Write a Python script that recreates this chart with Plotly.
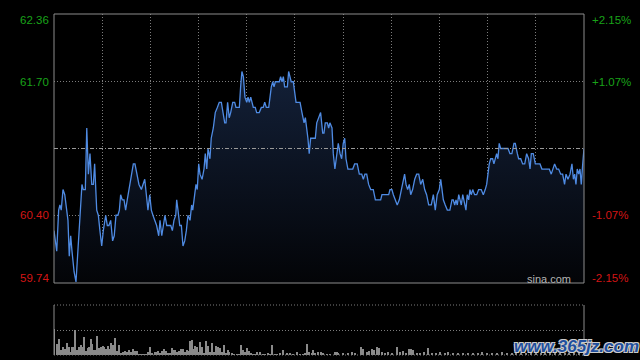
import plotly.graph_objects as go

# ---- price series (minutes from 09:30, HK session 330 min) ----
minutes_a = [0, 1.7, 2.9, 3.7, 4.5, 5.6, 6.7, 7.9, 8.7, 9.5, 10.4, 11.2, 12.5, 13.7, 15.0, 16.2, 17.4, 18.2, 19.5, 20.4,
             21.4, 22.4, 23.5, 24.5, 25.3, 26.6, 27.6, 28.6, 29.7, 30.7, 32.2, 33.2, 34.2, 35.3, 36.5, 37.5, 38.6, 39.8, 40.7, 41.5,
             42.5, 43.6, 44.6, 45.6, 47.3, 48.7, 49.4, 50.4, 51.5, 52.9, 54.4, 55.4, 56.5, 57.5, 58.5, 59.6, 60.6, 61.6, 62.7, 63.9,
             65.2, 66.0, 67.1, 68.0, 69.1, 70.2, 71.6, 72.7, 73.7, 74.7, 75.8, 76.4, 77.2, 78.3, 79.3, 80.3, 81.4, 82.4, 83.4]
prices_a = [60.25, 60.05, 60.45, 60.50, 60.45, 60.65, 60.60, 60.45, 60.35, 60.00,
            60.20, 60.05, 59.85, 59.75, 60.10, 60.50, 60.70, 60.65, 60.65, 61.25,
            60.80, 61.00, 60.70, 60.70, 60.90, 60.45, 60.40, 60.25, 60.10, 60.25,
            60.40, 60.30, 60.30, 60.35, 60.15, 60.20, 60.40, 60.40, 60.45, 60.60,
            60.55, 60.55, 60.45, 60.55, 60.70, 60.80, 60.90, 60.90, 60.80, 60.70,
            60.65, 60.70, 60.75, 60.60, 60.45, 60.60, 60.45, 60.40, 60.35, 60.30,
            60.20, 60.35, 60.20, 60.30, 60.40, 60.30, 60.30, 60.30, 60.25, 60.35,
            60.40, 60.55, 60.45, 60.30, 60.30, 60.10, 60.15, 60.25, 60.40]

minutes_b = [84.7, 85.7, 86.4, 87.6, 88.4, 89.2, 90.1, 90.9, 92.2, 93.4, 94.2, 95.1, 95.9, 97.1, 97.9, 99.2, 100.4, 101.7, 102.9, 104.2,
             105.4, 106.3, 107.1, 108.1, 109.1, 110.0, 111.3, 112.5, 113.3, 115.4, 116.2, 117.0, 117.9, 118.9, 120.0, 120.8, 121.6, 122.5, 123.3, 124.1,
             125.3, 126.2, 127.8, 129.1, 130.3, 131.2, 132.2, 133.7, 134.5, 135.3, 136.2, 137.0, 137.8, 139.0, 140.3, 141.1, 142.0, 142.8, 143.6, 144.4,
             145.3, 146.1, 146.9, 147.7, 149.0, 149.9, 150.7, 151.9, 153.2, 154.4, 155.7, 156.5, 157.4, 158.1, 158.9, 159.8, 161.1, 162.7, 163.6, 164.8,
             166.0, 167.3, 168.1, 168.9, 170.2, 171.0, 171.8, 173.1, 173.9, 174.9, 176.0, 177.0, 178.1, 179.1, 180.1, 181.0, 181.8, 183.0, 184.3, 185.1,
             186.0, 187.2, 188.8, 190.1]
prices_b = [60.35, 60.50, 60.45, 60.60, 60.70, 60.65, 60.90, 60.80, 60.75, 60.85,
            61.00, 60.85, 61.05, 60.95, 61.15, 61.25, 61.40, 61.45, 61.50, 61.50,
            61.40, 61.30, 61.30, 61.50, 61.35, 61.40, 61.50, 61.50, 61.45, 61.45,
            61.65, 61.80, 61.75, 61.55, 61.50, 61.55, 61.50, 61.55, 61.50, 61.45,
            61.45, 61.40, 61.40, 61.45, 61.45, 61.50, 61.45, 61.45, 61.55, 61.65,
            61.70, 61.65, 61.70, 61.70, 61.70, 61.75, 61.70, 61.75, 61.65, 61.65,
            61.65, 61.80, 61.75, 61.70, 61.70, 61.60, 61.50, 61.50, 61.50, 61.40,
            61.30, 61.35, 61.25, 61.15, 61.00, 61.15, 61.15, 61.15, 61.30, 61.35,
            61.40, 61.20, 61.20, 61.30, 61.30, 61.25, 61.30, 61.25, 61.00, 60.85,
            61.00, 61.10, 61.00, 60.95, 61.10, 61.15, 60.95, 60.85, 60.85, 60.85,
            60.85, 60.90, 60.90, 60.80]

minutes_c = [191.6, 192.6, 193.6, 194.7, 195.9, 197.2, 198.8, 200.1, 202.2, 203.4,
             204.2, 206.3, 208.4, 209.2, 210.4, 211.3, 212.5, 213.7, 215.0, 216.2,
             217.5, 218.3, 219.2, 220.2, 221.2, 222.1, 223.3, 224.6, 225.8, 227.1,
             228.3, 229.6, 230.8, 232.0, 233.3, 234.9, 236.2, 237.4, 238.6, 239.9,
             240.8, 241.6, 242.4, 243.6, 244.9, 246.5, 247.8, 248.6, 249.5, 250.3,
             251.1, 252.0, 252.8, 253.6, 254.5, 255.7, 256.5, 257.3, 258.2, 259.0,
             259.8, 260.7, 261.9, 263.2, 264.4, 266.0, 267.3, 268.5, 269.4, 270.2,
             271.0, 271.9, 273.1, 273.9, 274.8, 275.6, 276.4, 277.2, 278.1, 279.7,
             281.4, 282.7, 283.9, 285.1, 286.4, 287.2, 288.5, 289.3, 290.6, 291.8,
             293.1, 294.3, 295.5, 296.4, 297.2, 298.4, 299.7, 301.3, 302.6, 303.8,
             304.6, 305.9, 307.1, 308.4, 309.6, 310.9, 311.7, 313.0, 314.2, 315.5,
             316.7, 317.9, 318.8, 320.0, 321.3, 322.5, 323.4, 324.2, 325.0, 325.8,
             326.7, 327.5, 328.3, 329.2, 330.0]
prices_c = [60.80, 60.75, 60.80, 60.80, 60.70, 60.65, 60.65, 60.55, 60.55, 60.55,
            60.60, 60.60, 60.60, 60.65, 60.65, 60.60, 60.55, 60.50, 60.55, 60.65,
            60.75, 60.80, 60.70, 60.65, 60.70, 60.60, 60.65, 60.75, 60.80, 60.80,
            60.70, 60.75, 60.65, 60.60, 60.50, 60.50, 60.60, 60.45, 60.60, 60.65,
            60.75, 60.65, 60.55, 60.50, 60.45, 60.45, 60.55, 60.55, 60.50, 60.55,
            60.50, 60.60, 60.55, 60.50, 60.60, 60.50, 60.45, 60.60, 60.55, 60.65,
            60.60, 60.65, 60.60, 60.60, 60.65, 60.65, 60.60, 60.65, 60.70, 60.80,
            60.90, 60.95, 60.95, 60.90, 60.95, 61.00, 60.95, 61.10, 61.05, 61.05,
            61.05, 61.05, 61.00, 61.00, 61.10, 61.10, 61.00, 60.95, 60.95, 60.90,
            60.90, 61.00, 60.95, 60.85, 61.00, 61.00, 60.90, 60.90, 60.90, 60.85,
            60.85, 60.85, 60.85, 60.85, 60.80, 60.85, 60.90, 60.85, 60.85, 60.80,
            60.80, 60.70, 60.80, 60.75, 60.80, 60.90, 60.75, 60.80, 60.70, 60.85,
            60.80, 60.85, 60.70, 60.90, 61.05]

# ---- volume (arbitrary units; panel top = 200) ----
vol_minutes = [0, 2.1, 3.3, 4.2, 5.0, 5.8, 7.0, 8.3, 9.1, 10.4, 11.2, 12.0, 13.3, 14.1, 15.4, 16.6, 17.9, 18.9, 19.9, 21.4,
               22.0, 23.2, 23.8, 24.9, 26.0, 27.0, 28.2, 29.1, 30.3, 31.1, 32.4, 33.4, 34.4, 35.5, 36.5, 37.4, 38.2, 39.0, 40.3, 41.5,
               42.8, 44.0, 44.8, 45.6, 46.9, 47.8, 49.0, 50.2, 51.5, 52.7, 54.0, 55.2, 56.5, 57.7, 58.7, 59.8, 61.0, 62.9, 63.9, 64.9,
               66.0, 67.2, 68.5, 69.7, 71.0, 72.2, 73.3, 74.3, 75.3, 76.8, 78.0, 79.3, 80.1, 81.4, 82.6, 83.9, 84.7, 85.9, 86.7, 87.8,
               88.8, 89.8, 90.9, 92.0, 93.4, 94.6, 95.9, 97.1, 98.4, 99.6, 100.9, 102.1, 103.4, 104.4, 105.8, 107.1, 108.1, 109.1, 110.6, 112.1,
               113.7, 115.4, 116.6, 117.9, 119.1, 120.0, 121.2, 122.5, 124.1, 125.3, 126.6, 128.3, 129.9, 131.6, 133.2, 134.5, 135.9, 137.6, 139.0, 140.7,
               142.8, 144.9, 146.9, 149.0, 151.1, 153.2, 155.2, 156.5, 157.7, 159.0, 160.4, 161.4, 162.7, 164.6, 166.0, 167.7, 169.8, 171.8, 174.8, 176.4,
               177.0, 180.1, 183.2, 185.3, 187.4, 191.0, 192.6, 194.7, 196.3, 197.8, 199.4, 200.9, 202.2, 204.0, 206.1, 208.1, 210.2, 213.4, 215.4, 217.5,
               219.2, 220.8, 222.3, 223.7, 225.8, 227.9, 230.4, 233.0, 235.2, 237.8, 240.3, 243.4, 245.5, 248.6, 251.7, 254.8, 257.9, 261.1, 264.2, 266.3,
               269.4, 272.5, 275.6, 278.7, 281.8, 284.9, 288, 291, 294, 297, 300, 303, 306, 309, 312, 315, 318, 321, 324, 327, 330]
vol_values = [103, 44, 64, 20, 20, 31, 23, 47, 31, 13, 31, 31, 100, 20, 31, 40, 31, 72, 17, 27,
              31, 64, 44, 20, 20, 76, 27, 31, 36, 31, 23, 36, 23, 47, 40, 31, 67, 17, 40, 9,
              13, 17, 9, 13, 20, 13, 23, 17, 17, 4, 4, 4, 4, 4, 13, 33, 7, 13, 13, 17,
              9, 17, 23, 17, 9, 7, 27, 20, 20, 13, 17, 23, 23, 13, 20, 17, 56, 60, 23, 36,
              33, 13, 53, 33, 9, 57, 36, 13, 49, 13, 36, 31, 27, 13, 40, 9, 20, 13, 7, 4,
              4, 4, 40, 20, 13, 27, 17, 7, 4, 4, 13, 13, 4, 4, 7, 4, 40, 4, 4, 7,
              20, 7, 7, 4, 13, 4, 4, 7, 44, 13, 9, 20, 9, 13, 13, 7, 4, 4, 13, 13,
              9, 7, 9, 13, 9, 31, 23, 13, 17, 23, 20, 31, 27, 13, 9, 13, 9, 31, 13, 17,
              9, 23, 23, 20, 9, 9, 13, 27, 9, 9, 13, 9, 13, 7, 9, 7, 9, 7, 9, 13,
              9, 7, 9, 13, 7, 7, 7, 9, 7, 9, 7, 9, 7, 9, 13, 7, 9, 7, 9, 13, 20]

# ---- axis labels ----
y_low, y_high, prev_close = 59.74, 62.36, 61.05
left_values = [62.36, 61.70, 60.40, 59.74]
left_labels = ["62.36", "61.70", "60.40", "59.74"]
right_labels = ["+2.15%", "+1.07%", "-1.07%", "-2.15%"]
label_colors = ["#19a319", "#19a319", "#d41515", "#d41515"]
label_shift = [-6, 0, 0, 5]
grid_times = [30, 60, 90, 120, 150, 180, 210, 240, 270, 300]

minutes = minutes_a + minutes_b + minutes_c
prices = prices_a + prices_b + prices_c

XD = [54 / 640, 584 / 640]
YD_MAIN = [(360 - 283) / 360, (360 - 14) / 360]
YD_VOL = [(360 - 355) / 360, (360 - 305) / 360]
GRID = "#7c7c7c"
BORDER = "#8c8c8c"
DOT = "1px,2px"

fig = go.Figure()
fig.add_trace(go.Scatter(
    x=minutes, y=prices, mode="lines",
    line=dict(color="#4f8be3", width=1.3),
    fill="tozeroy",
    fillgradient=dict(type="vertical", start=y_low, stop=61.8,
                      colorscale=[[0, "rgb(3,4,7)"], [1, "rgb(19,32,56)"]]),
    xaxis="x", yaxis="y", hoverinfo="skip", showlegend=False))
fig.add_trace(go.Bar(
    x=vol_minutes, y=vol_values, width=0.7,
    marker=dict(color="#8a8a8a", line=dict(width=0)),
    xaxis="x2", yaxis="y2", showlegend=False, hoverinfo="skip"))

axis_common = dict(showticklabels=False, zeroline=False, showline=False, ticks="")
fig.update_layout(
    width=640, height=360,
    margin=dict(l=0, r=0, t=0, b=0),
    paper_bgcolor="black", plot_bgcolor="black",
    bargap=0,
    xaxis=dict(domain=XD, range=[0, 330], anchor="y", tickvals=grid_times,
               showgrid=True, gridcolor=GRID, griddash=DOT, gridwidth=1, **axis_common),
    yaxis=dict(domain=YD_MAIN, range=[y_low, y_high], anchor="x", tickvals=[61.70, 60.40],
               showgrid=True, gridcolor=GRID, griddash=DOT, gridwidth=1, **axis_common),
    xaxis2=dict(domain=XD, range=[0, 330], anchor="y2", showgrid=False, **axis_common),
    yaxis2=dict(domain=YD_VOL, range=[0, 200], anchor="x2", tickvals=[100],
                showgrid=True, gridcolor=GRID, griddash=DOT, gridwidth=1, **axis_common),
)

shapes = [
    dict(type="rect", xref="x domain", yref="y domain", x0=0, x1=1, y0=0, y1=1,
         line=dict(color=BORDER, width=1)),
    dict(type="line", xref="x domain", yref="y", x0=0, x1=1, y0=prev_close, y1=prev_close,
         line=dict(color="#9a9a9a", width=1, dash="4px,2px,1px,2px")),
    dict(type="line", xref="x2 domain", yref="y2 domain", x0=0, x1=0, y0=0, y1=1,
         line=dict(color=BORDER, width=1)),
    dict(type="line", xref="x2 domain", yref="y2 domain", x0=1, x1=1, y0=0, y1=1,
         line=dict(color=BORDER, width=1)),
    dict(type="line", xref="x2 domain", yref="y2 domain", x0=0, x1=1, y0=1, y1=1,
         line=dict(color=GRID, width=1, dash=DOT)),
    dict(type="line", xref="x2 domain", yref="y2 domain", x0=0, x1=1, y0=0, y1=0,
         line=dict(color=GRID, width=1, dash=DOT)),
]
fig.update_layout(shapes=shapes)

FONT = "Liberation Sans, Arial, sans-serif"
ann = []
for v, lt, rt, c, s in zip(left_values, left_labels, right_labels, label_colors, label_shift):
    ann.append(dict(x=51 / 640, xref="paper", y=v, yref="y", text=lt, showarrow=False,
                    xanchor="right", yanchor="middle", yshift=s,
                    font=dict(family=FONT, size=11.5, color=c)))
    ann.append(dict(x=590 / 640, xref="paper", y=v, yref="y", text=rt, showarrow=False,
                    xanchor="left", yanchor="middle", yshift=s,
                    font=dict(family=FONT, size=11.5, color=c)))
ann.append(dict(x=573 / 640, xref="paper", y=(360 - 279) / 360, yref="paper", text="sina.com",
                showarrow=False, xanchor="right", yanchor="middle",
                font=dict(family=FONT, size=11, color="#b4b4b4")))
ann.append(dict(x=576 / 640, xref="paper", y=(360 - 346.5) / 360, yref="paper", text="www.365jz.com",
                showarrow=False, xanchor="center", yanchor="middle",
                font=dict(family=FONT, size=17, color="#1f4f9e", weight="bold", style="italic",
                          shadow="1px 1px 0 #ccc, -1px -1px 0 #ccc, 1px -1px 0 #ccc, -1px 1px 0 #ccc")))
fig.update_layout(annotations=ann)

fig.write_html("out.html", config={"displayModeBar": False},
               post_script="document.body.style.margin='0';document.body.style.overflow='hidden';")
